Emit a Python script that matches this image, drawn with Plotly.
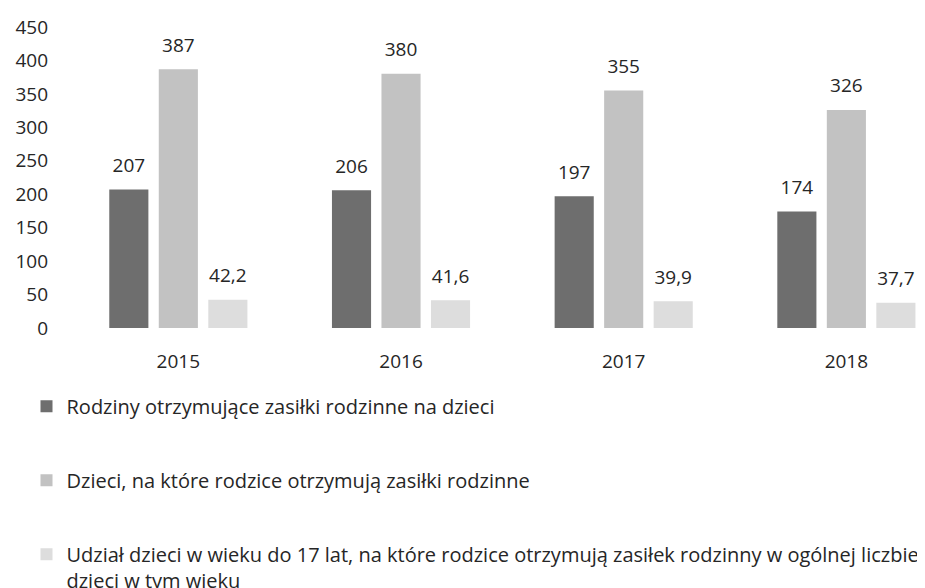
import plotly.graph_objects as go

years = ["2015", "2016", "2017", "2018"]
rodziny = [207, 206, 197, 174]
dzieci = [387, 380, 355, 326]
udzial = [42.2, 41.6, 39.9, 37.7]

labels_rodziny = ["207", "206", "197", "174"]
labels_dzieci = ["387", "380", "355", "326"]
labels_udzial = ["42,2", "41,6", "39,9", "37,7"]

series = [
    ("Rodziny otrzymujące zasiłki rodzinne na dzieci", rodziny, labels_rodziny, "#6e6e6e"),
    ("Dzieci, na które rodzice otrzymują zasiłki rodzinne", dzieci, labels_dzieci, "#c2c2c2"),
    ("Udział dzieci w wieku do 17 lat, na które rodzice otrzymują zasiłek rodzinny w ogólnej liczbie<br>dzieci w tym wieku",
     udzial, labels_udzial, "#dddddd"),
]

FONT = "Open Sans, Liberation Sans, sans-serif"
TEXT = "#262626"

fig = go.Figure()
for i, (name, vals, txt, color) in enumerate(series):
    fig.add_trace(go.Bar(
        x=years,
        y=vals,
        name=name,
        marker=dict(color=color, line=dict(width=0)),
        legendgroup=str(i),
        offsetgroup=str(i),
    ))
    # value labels float higher above the bars than plotly's outside text,
    # so an invisible marker is used to push them up
    fig.add_trace(go.Scatter(
        x=years,
        y=vals,
        mode="markers+text",
        text=txt,
        textposition="top center",
        marker=dict(size=19, color="rgba(0,0,0,0)"),
        textfont=dict(size=19, color=TEXT, family=FONT),
        cliponaxis=False,
        showlegend=False,
        hoverinfo="skip",
        offsetgroup=str(i),
    ))

fig.update_layout(
    width=925,
    height=588,
    margin=dict(l=59, r=0, t=19, b=268, autoexpand=False),
    paper_bgcolor="white",
    plot_bgcolor="white",
    font=dict(family=FONT, size=19, color=TEXT),
    barmode="group",
    scattermode="group",
    bargap=0.333,
    scattergap=0.333,
    bargroupgap=0.21,
    showlegend=True,
    legend=dict(
        orientation="v",
        xref="container",
        yref="container",
        x=0.02,
        y=0.356,
        xanchor="left",
        yanchor="top",
        tracegroupgap=45,
        valign="top",
        font=dict(size=20, color=TEXT, family=FONT),
        itemwidth=30,
    ),
)

fig.update_xaxes(
    range=[-0.5, 3.389],
    showgrid=False,
    showline=False,
    ticks="",
    tickangle=0,
    ticklabelstandoff=20,
    tickfont=dict(size=19, color=TEXT),
)
fig.update_yaxes(
    range=[0, 450],
    dtick=50,
    showgrid=False,
    showline=False,
    zeroline=False,
    ticks="",
    ticklabelstandoff=18,
    tickfont=dict(size=19, color=TEXT),
)

fig.write_html("out.html")
